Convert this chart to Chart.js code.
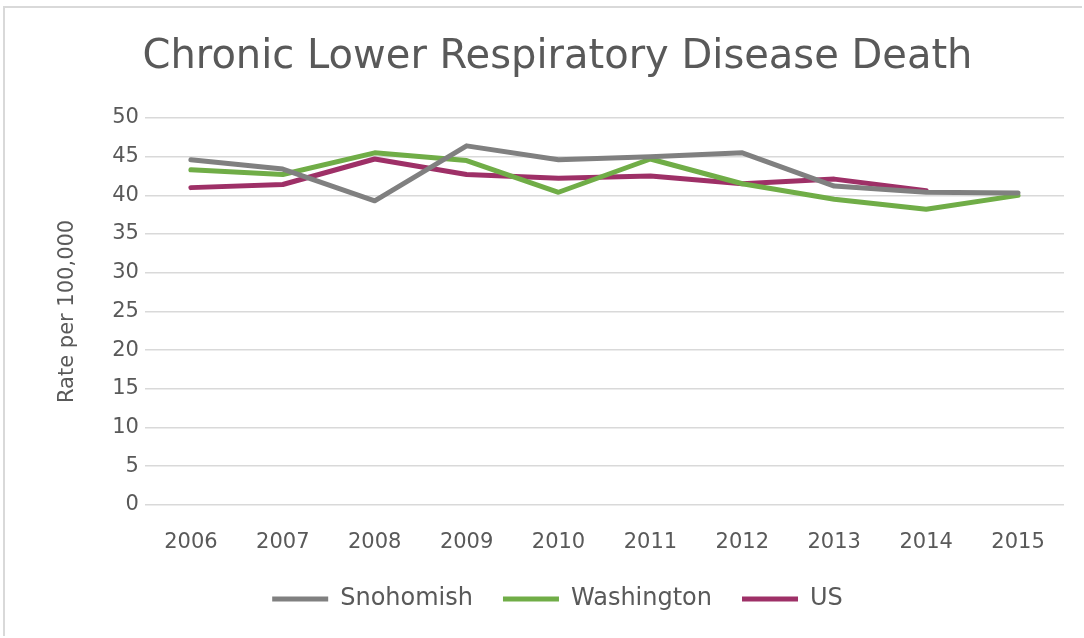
<!DOCTYPE html>
<html>
<head>
<meta charset="utf-8">
<script src="https://cdn.jsdelivr.net/npm/chart.js@4"></script>
<style>
    html, body { margin: 0; padding: 0; background: #fff; }
    .chart-box {
        position: absolute;
        left: 3px; top: 6px;
        width: 1079px; height: 630px;
        border-top: 2px solid #d9d9d9;
        border-left: 2px solid #d9d9d9;
        box-sizing: border-box;
    }
    canvas { display: block; }
</style>
</head>
<body>
<div class="chart-box">
    <canvas id="chart" width="1077" height="628"></canvas>
</div>
<script>
const years = ['2006', '2007', '2008', '2009', '2010', '2011', '2012', '2013', '2014', '2015'];
const snohomish = [44.6, 43.4, 39.3, 46.4, 44.6, 45.0, 45.5, 41.2, 40.4, 40.3];
const washington = [43.3, 42.7, 45.5, 44.5, 40.4, 44.7, 41.5, 39.5, 38.2, 40.0];
const us = [41.0, 41.4, 44.7, 42.7, 42.2, 42.5, 41.5, 42.1, 40.6, null];
const yTicks = [0, 5, 10, 15, 20, 25, 30, 35, 40, 45, 50];

const textColor = '#595959';
const fontFamily = "'DejaVu Sans', sans-serif";

const makeSet = (label, values, color) => ({
    label: label,
    data: values,
    borderColor: color,
    backgroundColor: color,
    borderWidth: 5,
    pointRadius: 0,
    tension: 0,
    borderCapStyle: 'round',
    borderJoinStyle: 'round',
    spanGaps: false,
});

// legend padding also adds space above the row, pull the row back up
const legendNudge = {
    id: 'legendNudge',
    afterLayout(chart) {
        chart.legend.top -= 15;
        chart.legend.bottom -= 15;
    },
};

new Chart(document.getElementById('chart'), {
    type: 'line',
    data: {
        labels: years,
        datasets: [
            makeSet('Snohomish', snohomish, '#808080'),
            makeSet('Washington', washington, '#70ad47'),
            makeSet('US', us, '#9e3067'),
        ],
    },
    plugins: [legendNudge],
    options: {
        responsive: false,
        animation: false,
        layout: { padding: { left: 46, right: 18, top: 26, bottom: 0 } },
        plugins: {
            title: {
                display: true,
                text: 'Chronic Lower Respiratory Disease Death',
                color: textColor,
                font: { family: fontFamily, size: 40, weight: 'normal' },
                padding: { top: 0, bottom: 36 },
            },
            legend: {
                position: 'bottom',
                labels: {
                    usePointStyle: true,
                    pointStyle: 'line',
                    pointStyleWidth: 56,
                    color: textColor,
                    padding: 30,
                    font: { family: fontFamily, size: 24 },
                },
            },
            tooltip: { enabled: false },
        },
        scales: {
            x: {
                offset: true,
                grid: { display: false },
                border: { display: false },
                ticks: {
                    color: textColor,
                    padding: 17,
                    font: { family: fontFamily, size: 21 },
                },
            },
            y: {
                min: 0,
                max: 50,
                afterBuildTicks: (axis) => {
                    axis.ticks = yTicks.map((v) => ({ value: v }));
                },
                grid: { color: '#d9d9d9', lineWidth: 1.5, drawTicks: false },
                border: { display: false },
                title: {
                    display: true,
                    text: 'Rate per 100,000',
                    color: textColor,
                    font: { family: fontFamily, size: 21 },
                    padding: { bottom: 26 },
                },
                ticks: {
                    color: textColor,
                    padding: 6,
                    font: { family: fontFamily, size: 21 },
                },
            },
        },
    },
});
</script>
</body>
</html>
